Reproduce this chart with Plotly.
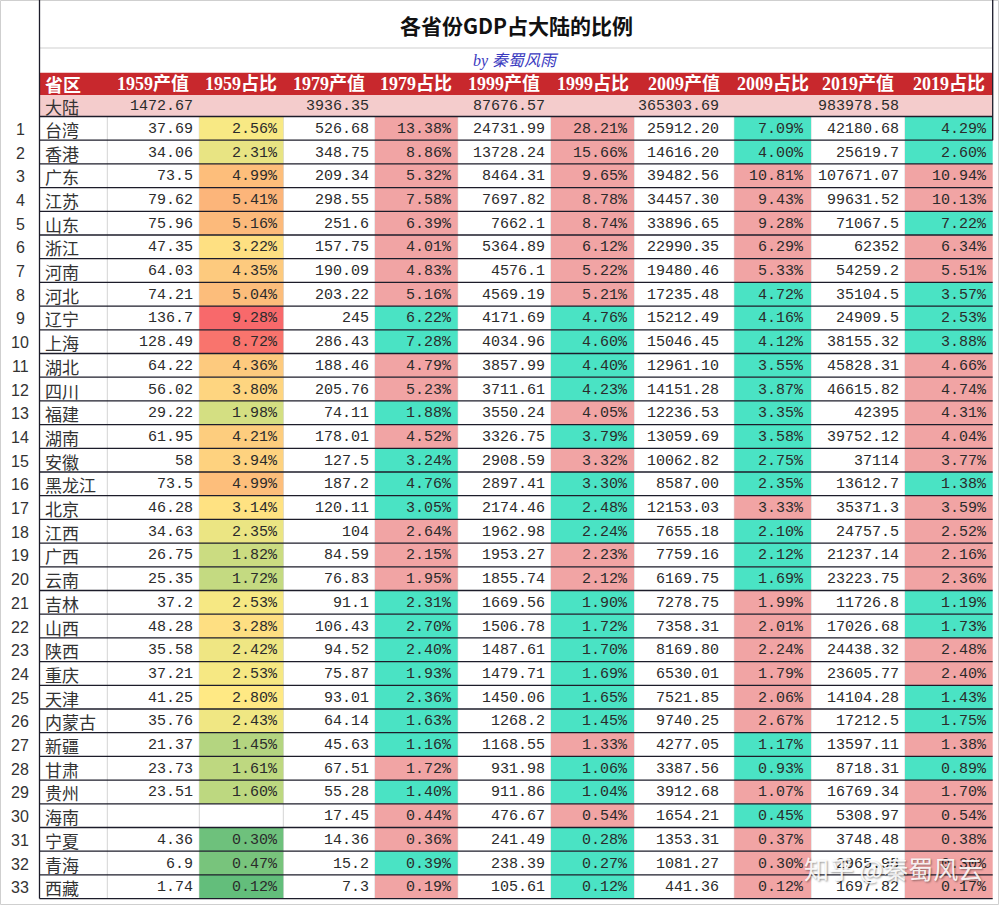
import numpy as np
import plotly.graph_objects as go

# ---- data ----
provinces = ["台湾", "香港", "广东", "江苏", "山东", "浙江", "河南", "河北", "辽宁", "上海",
             "湖北", "四川", "福建", "湖南", "安徽", "黑龙江", "北京", "江西", "广西", "云南",
             "吉林", "山西", "陕西", "重庆", "天津", "内蒙古", "新疆", "甘肃", "贵州", "海南",
             "宁夏", "青海", "西藏"]

gdp_1959 = [37.69, 34.06, 73.5, 79.62, 75.96, 47.35, 64.03, 74.21, 136.7, 128.49,
            64.22, 56.02, 29.22, 61.95, 58, 73.5, 46.28, 34.63, 26.75, 25.35,
            37.2, 48.28, 35.58, 37.21, 41.25, 35.76, 21.37, 23.73, 23.51, None,
            4.36, 6.9, 1.74]
share_1959 = [2.56, 2.31, 4.99, 5.41, 5.16, 3.22, 4.35, 5.04, 9.28, 8.72,
              4.36, 3.80, 1.98, 4.21, 3.94, 4.99, 3.14, 2.35, 1.82, 1.72,
              2.53, 3.28, 2.42, 2.53, 2.80, 2.43, 1.45, 1.61, 1.60, None,
              0.30, 0.47, 0.12]
gdp_1979 = [526.68, 348.75, 209.34, 298.55, 251.6, 157.75, 190.09, 203.22, 245, 286.43,
            188.46, 205.76, 74.11, 178.01, 127.5, 187.2, 120.11, 104, 84.59, 76.83,
            91.1, 106.43, 94.52, 75.87, 93.01, 64.14, 45.63, 67.51, 55.28, 17.45,
            14.36, 15.2, 7.3]
share_1979 = [13.38, 8.86, 5.32, 7.58, 6.39, 4.01, 4.83, 5.16, 6.22, 7.28,
              4.79, 5.23, 1.88, 4.52, 3.24, 4.76, 3.05, 2.64, 2.15, 1.95,
              2.31, 2.70, 2.40, 1.93, 2.36, 1.63, 1.16, 1.72, 1.40, 0.44,
              0.36, 0.39, 0.19]
gdp_1999 = [24731.99, 13728.24, 8464.31, 7697.82, 7662.1, 5364.89, 4576.1, 4569.19, 4171.69, 4034.96,
            3857.99, 3711.61, 3550.24, 3326.75, 2908.59, 2897.41, 2174.46, 1962.98, 1953.27, 1855.74,
            1669.56, 1506.78, 1487.61, 1479.71, 1450.06, 1268.2, 1168.55, 931.98, 911.86, 476.67,
            241.49, 238.39, 105.61]
share_1999 = [28.21, 15.66, 9.65, 8.78, 8.74, 6.12, 5.22, 5.21, 4.76, 4.60,
              4.40, 4.23, 4.05, 3.79, 3.32, 3.30, 2.48, 2.24, 2.23, 2.12,
              1.90, 1.72, 1.70, 1.69, 1.65, 1.45, 1.33, 1.06, 1.04, 0.54,
              0.28, 0.27, 0.12]
gdp_2009 = [25912.20, 14616.20, 39482.56, 34457.30, 33896.65, 22990.35, 19480.46, 17235.48, 15212.49, 15046.45,
            12961.10, 14151.28, 12236.53, 13059.69, 10062.82, 8587.00, 12153.03, 7655.18, 7759.16, 6169.75,
            7278.75, 7358.31, 8169.80, 6530.01, 7521.85, 9740.25, 4277.05, 3387.56, 3912.68, 1654.21,
            1353.31, 1081.27, 441.36]
share_2009 = [7.09, 4.00, 10.81, 9.43, 9.28, 6.29, 5.33, 4.72, 4.16, 4.12,
              3.55, 3.87, 3.35, 3.58, 2.75, 2.35, 3.33, 2.10, 2.12, 1.69,
              1.99, 2.01, 2.24, 1.79, 2.06, 2.67, 1.17, 0.93, 1.07, 0.45,
              0.37, 0.30, 0.12]
gdp_2019 = [42180.68, 25619.7, 107671.07, 99631.52, 71067.5, 62352, 54259.2, 35104.5, 24909.5, 38155.32,
            45828.31, 46615.82, 42395, 39752.12, 37114, 13612.7, 35371.3, 24757.5, 21237.14, 23223.75,
            11726.8, 17026.68, 24438.32, 23605.77, 14104.28, 17212.5, 13597.11, 8718.31, 16769.34, 5308.97,
            3748.48, 2965.95, 1697.82]
share_2019 = [4.29, 2.60, 10.94, 10.13, 7.22, 6.34, 5.51, 3.57, 2.53, 3.88,
              4.66, 4.74, 4.31, 4.04, 3.77, 1.38, 3.59, 2.52, 2.16, 2.36,
              1.19, 1.73, 2.48, 2.40, 1.43, 1.75, 1.38, 0.89, 1.70, 0.54,
              0.38, 0.30, 0.17]
mainland = [1472.67, 3936.35, 87676.57, 365303.69, 983978.58]

headers = ["省区", "1959产值", "1959占比", "1979产值", "1979占比", "1999产值",
           "1999占比", "2009产值", "2009占比", "2019产值", "2019占比"]

# ---- geometry (pixels) ----
W, H = 999, 905
col_edges = [39.5, 107.3, 199.3, 283.3, 375, 457.7, 551, 634, 734.3, 811, 905, 992.7]
right_pad = [0, 4, 3.5, 4, 3.7, 3.7, 4, 13, 5, 4, 3.7]
row_top, row_h = 116.5, 23.7
hdr_top, hdr_bot = 72.7, 95

RED = "#C8282D"
PINK_ROW = "#F4CCCC"
UP = "#F1A4A4"
DOWN = "#4AE3C4"
NUM_FONT = dict(family="Liberation Mono, Noto Sans CJK SC", size=15, color="#2b2b2b")
CJK_FONT = dict(family="Noto Sans CJK SC", size=17, color="#333333")


def general(v):
    if v is None:
        return ""
    return f"{v:.2f}".rstrip("0").rstrip(".")


def fixed2(v):
    return "" if v is None else f"{v:.2f}"


def pct(v):
    return "" if v is None else f"{v:.2f}%"


def excel_3color(v, lo, mid, hi):
    green, yellow, red = (99, 190, 123), (255, 235, 132), (248, 105, 107)
    if v <= mid:
        t, a, b = (v - lo) / (mid - lo), green, yellow
    else:
        t, a, b = (v - mid) / (hi - mid), yellow, red
    c = [round(a[k] + (b[k] - a[k]) * t) for k in range(3)]
    return f"rgb({c[0]},{c[1]},{c[2]})"


n = len(provinces)
row_y = [row_top + (i + 0.5) * row_h + 1 for i in range(n)]

columns = [
    (gdp_1959, general), (share_1959, pct), (gdp_1979, general), (share_1979, pct),
    (gdp_1999, general), (share_1999, pct), (gdp_2009, fixed2), (share_2009, pct),
    (gdp_2019, general), (share_2019, pct),
]

# cell fill colours
fills = {}
s59 = [v for v in share_1959 if v is not None]
lo, mid, hi = min(s59), float(np.percentile(s59, 50)), max(s59)
for i, v in enumerate(share_1959):
    if v is not None:
        fills[(i, 2)] = excel_3color(v, lo, mid, hi)
share_cols = [(share_1959, 2), (share_1979, 4), (share_1999, 6), (share_2009, 8), (share_2019, 10)]
for (prev, _), (cur, c) in zip(share_cols[:-1], share_cols[1:]):
    for i in range(n):
        up = prev[i] is None or cur[i] >= prev[i]
        fills[(i, c)] = UP if up else DOWN

fig = go.Figure()
shapes = []
annotations = []

# outer frame
shapes.append(dict(type="rect", x0=0.5, x1=W - 0.5, y0=0.5, y1=H - 0.5,
                   line=dict(color="#cfcfcf", width=1)))
# title separator
shapes.append(dict(type="line", x0=col_edges[0], x1=col_edges[-1], y0=48, y1=48,
                   line=dict(color="#cfcfcf", width=1)))
# header + mainland rows
shapes.append(dict(type="rect", x0=col_edges[0], x1=col_edges[-1], y0=hdr_top, y1=hdr_bot,
                   fillcolor=RED, line_width=0))
shapes.append(dict(type="rect", x0=col_edges[0], x1=col_edges[-1], y0=hdr_bot, y1=row_top,
                   fillcolor=PINK_ROW, line_width=0))
# light vertical gridlines
bottom = row_top + n * row_h
for x in col_edges[1:-1]:
    shapes.append(dict(type="line", x0=x, x1=x, y0=row_top, y1=bottom,
                       line=dict(color="#d4d4d4", width=1)))
# coloured cells
for (i, c), color in fills.items():
    shapes.append(dict(type="rect", x0=col_edges[c], x1=col_edges[c + 1],
                       y0=row_top + i * row_h, y1=row_top + (i + 1) * row_h,
                       fillcolor=color, line_width=0))
# dark row rules
for k in range(n + 1):
    y = row_top + k * row_h
    shapes.append(dict(type="line", x0=col_edges[0], x1=col_edges[-1], y0=y, y1=y,
                       line=dict(color="#1c1c2a", width=1.3)))
# left and right borders
shapes.append(dict(type="line", x0=col_edges[0], x1=col_edges[0], y0=0, y1=bottom,
                   line=dict(color="#1c1c2a", width=1.3)))
shapes.append(dict(type="line", x0=col_edges[-1], x1=col_edges[-1], y0=0, y1=row_top + row_h,
                   line=dict(color="#1c1c2a", width=1.3)))

# title + byline
annotations.append(dict(x=516, y=25, text="各省份GDP占大陆的比例", showarrow=False,
                        font=dict(family="Noto Sans CJK SC", size=21, color="#111111", weight=600)))
annotations.append(dict(x=516, y=61, text="<i>by 秦蜀风雨</i>", showarrow=False,
                        font=dict(family="Liberation Serif, Noto Sans CJK SC", size=16, color="#3a3abf")))

# header row
hdr_y = (hdr_top + hdr_bot) / 2 + 0.5
for c, label in enumerate(headers):
    if c == 0:
        annotations.append(dict(x=col_edges[0] + 3, y=hdr_y, text=f"<b>{label}</b>", xanchor="left",
                                showarrow=False,
                                font=dict(family="Noto Sans CJK SC", size=18, color="white")))
    else:
        annotations.append(dict(x=(col_edges[c] + col_edges[c + 1]) / 2, y=hdr_y, text=f"<b>{label}</b>",
                                showarrow=False,
                                font=dict(family="Liberation Serif, Noto Sans CJK SC", size=18, color="white")))

# mainland row
ml_y = (hdr_bot + row_top) / 2 + 1
annotations.append(dict(x=col_edges[0] + 3, y=ml_y, text="大陆", xanchor="left", showarrow=False,
                        font=CJK_FONT))
for j, v in enumerate(mainland):
    c = 1 + 2 * j
    annotations.append(dict(x=col_edges[c + 1] - right_pad[c], y=ml_y, text=f"{v:.2f}",
                            xanchor="right", showarrow=False, font=NUM_FONT))

# body rows
for i in range(n):
    y = row_y[i]
    annotations.append(dict(x=20, y=y, text=str(i + 1), showarrow=False,
                            font=dict(family="Liberation Sans", size=16, color="#333333")))
    annotations.append(dict(x=col_edges[0] + 3, y=y, text=provinces[i], xanchor="left",
                            showarrow=False, font=CJK_FONT))
    for k, (vals, fmt) in enumerate(columns):
        c = k + 1
        txt = fmt(vals[i])
        if txt:
            annotations.append(dict(x=col_edges[c + 1] - right_pad[c], y=y, text=txt,
                                    xanchor="right", showarrow=False, font=NUM_FONT))

# watermark
annotations.append(dict(x=893, y=868, text="知乎 @秦蜀风云", showarrow=False,
                        font=dict(family="Noto Sans CJK SC", size=25, color="rgba(255,255,255,0.9)",
                                  shadow="1px 1px 2px rgba(0,0,0,0.45)")))

fig.update_layout(
    width=W, height=H,
    margin=dict(l=0, r=0, t=0, b=0),
    paper_bgcolor="white", plot_bgcolor="white",
    xaxis=dict(range=[0, W], visible=False, fixedrange=True),
    yaxis=dict(range=[H, 0], visible=False, fixedrange=True),
    shapes=shapes, annotations=annotations,
    showlegend=False,
)

fig.write_html("out.html", config={"displayModeBar": False},
               post_script="document.body.style.margin='0';")
